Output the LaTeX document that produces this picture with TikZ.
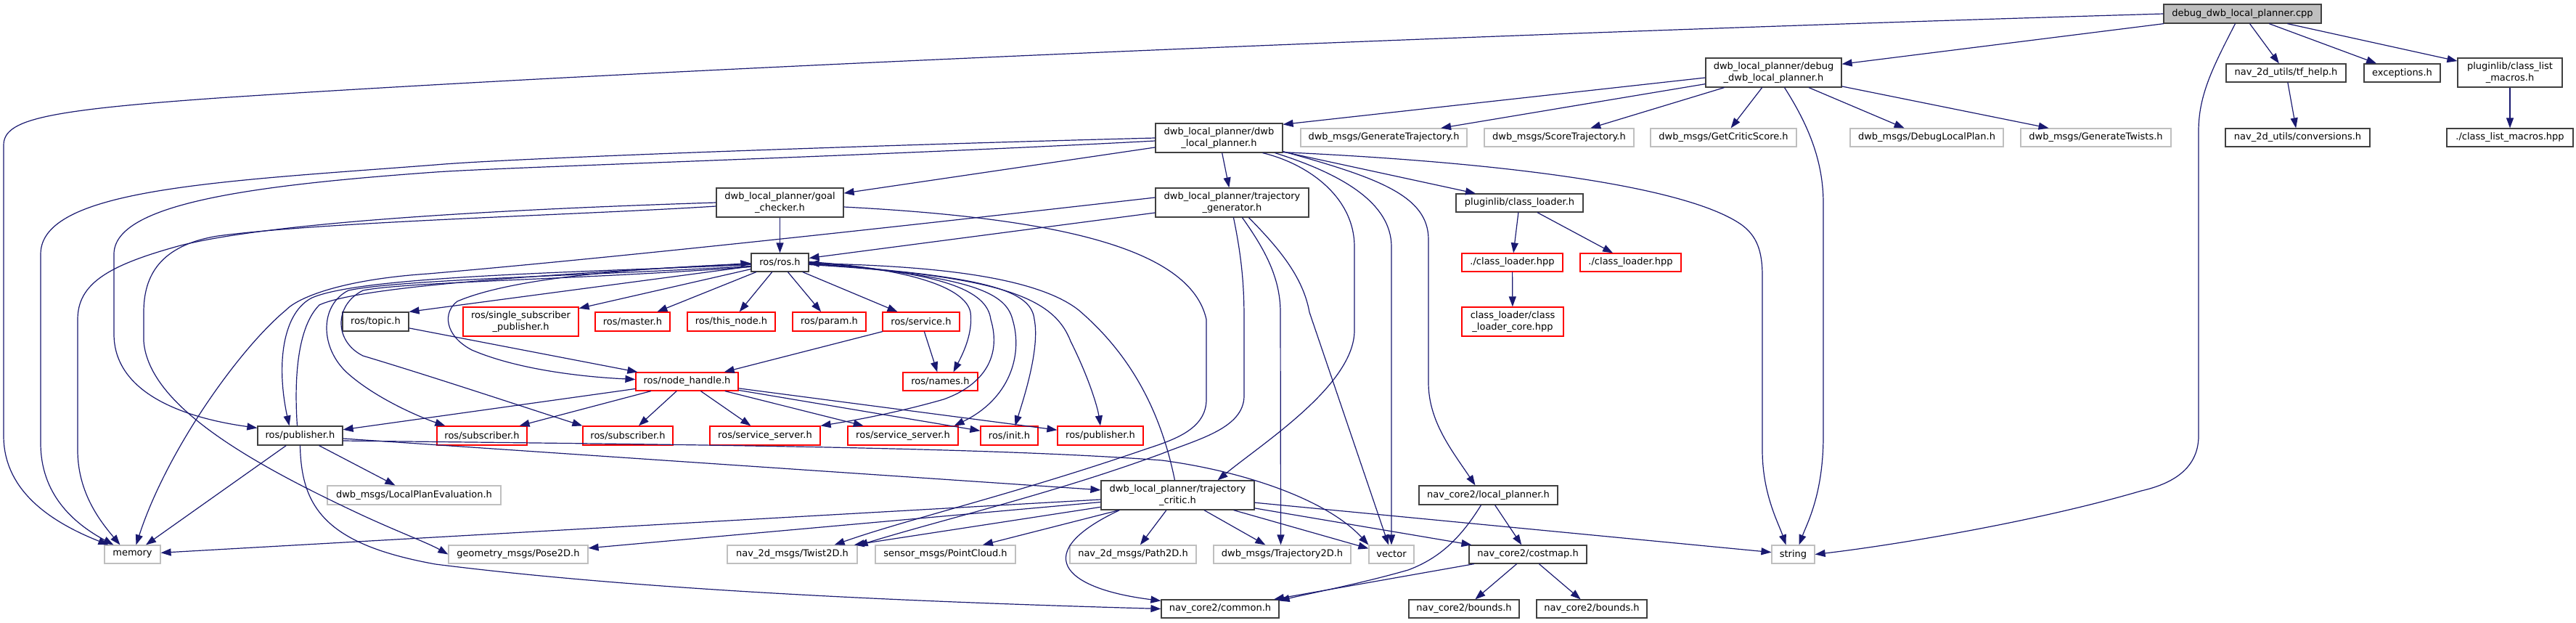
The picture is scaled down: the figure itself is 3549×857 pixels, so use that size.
\documentclass[tikz,border=0pt]{standalone}
\usepackage{fontspec}
\setmainfont{DejaVu Sans}
\usetikzlibrary{arrows.meta,calc}
\definecolor{edgec}{HTML}{191970}
\definecolor{grayb}{HTML}{BFBFBF}
\definecolor{darkb}{HTML}{404040}
\definecolor{redb}{HTML}{FF0000}
\begin{document}
\begin{tikzpicture}[x=0.5pt,y=-0.5pt,
 bx/.style={draw, line width=0.6pt, inner sep=0pt, align=center, font=\fontsize{6.5pt}{7.6pt}\selectfont, fill=white},
 blk/.style={bx, draw=darkb},
 rd/.style={bx, draw=redb},
 gr/.style={bx, draw=grayb},
 sz/.style 2 args={minimum width=#1*0.5pt, minimum height=#2*0.5pt},
 conn/.style={draw=edgec, line width=0.6pt, -{Triangle[length=7pt,width=5pt]}},
]
\useasboundingbox (0,0) rectangle (3549,857);
% nodes
\node[blk, sz={217}{26}, fill=grayb] (cpp) at (3089.5,19) {debug\_dwb\_local\_planner.cpp};
\node[blk, sz={187}{40}] (dbgh) at (2443.5,100) {dwb\_local\_planner/debug\\\_dwb\_local\_planner.h};
\node[blk, sz={165}{25}] (tfhelp) at (3149.5,100.5) {nav\_2d\_utils/tf\_help.h};
\node[blk, sz={105}{25}] (exc) at (3309.5,100.5) {exceptions.h};
\node[blk, sz={144}{40}] (clm) at (3458,100) {pluginlib/class\_list\\\_macros.h};
\node[blk, sz={199}{25}] (conv) at (3165.5,189.5) {nav\_2d\_utils/conversions.h};
\node[blk, sz={174}{25}] (clmhpp) at (3458,189.5) {./class\_list\_macros.hpp};
\node[blk, sz={175}{40}] (dwbh) at (1679.5,190) {dwb\_local\_planner/dwb\\\_local\_planner.h};
\node[gr, sz={229}{25}] (gentraj) at (1906.5,189.5) {dwb\_msgs/GenerateTrajectory.h};
\node[gr, sz={206}{25}] (score) at (2148,189.5) {dwb\_msgs/ScoreTrajectory.h};
\node[gr, sz={201}{25}] (critscore) at (2374.5,189.5) {dwb\_msgs/GetCriticScore.h};
\node[gr, sz={211}{25}] (debugplan) at (2654.5,189.5) {dwb\_msgs/DebugLocalPlan.h};
\node[gr, sz={207}{25}] (twists) at (2887.5,189.5) {dwb\_msgs/GenerateTwists.h};
\node[blk, sz={175}{40}] (goal) at (1074.5,279) {dwb\_local\_planner/goal\\\_checker.h};
\node[blk, sz={211}{40}] (trajgen) at (1697.5,279) {dwb\_local\_planner/trajectory\\\_generator.h};
\node[blk, sz={175}{25}] (clh) at (2093.5,279.5) {pluginlib/class\_loader.h};
\node[rd, sz={139}{25}] (clhpp1) at (2083.5,361.5) {./class\_loader.hpp};
\node[rd, sz={139}{25}] (clhpp2) at (2246.5,361.5) {./class\_loader.hpp};
\node[rd, sz={140}{40}] (clcore) at (2084,443) {class\_loader/class\\\_loader\_core.hpp};
\node[blk, sz={79}{25}] (ros) at (1074.5,361.5) {ros/ros.h};
\node[blk, sz={91}{26}] (topic) at (517.5,443) {ros/topic.h};
\node[rd, sz={159}{40}] (ssp) at (717.5,443) {ros/single\_subscriber\\\_publisher.h};
\node[rd, sz={103}{26}] (master) at (871.5,443) {ros/master.h};
\node[rd, sz={121}{26}] (thisnode) at (1007.5,443) {ros/this\_node.h};
\node[rd, sz={101}{26}] (param) at (1142.5,443) {ros/param.h};
\node[rd, sz={106}{26}] (service) at (1269,443) {ros/service.h};
\node[rd, sz={103}{25}] (names) at (1295.5,525.5) {ros/names.h};
\node[rd, sz={141}{25}] (nh) at (946.5,525.5) {ros/node\_handle.h};
\node[blk, sz={117}{26}] (pubb) at (413.5,600) {ros/publisher.h};
\node[rd, sz={124}{26}] (sub1) at (664,600) {ros/subscriber.h};
\node[rd, sz={124}{26}] (sub2) at (865,600) {ros/subscriber.h};
\node[rd, sz={152}{26}] (ss1) at (1054,600) {ros/service\_server.h};
\node[rd, sz={152}{26}] (ss2) at (1244,600) {ros/service\_server.h};
\node[rd, sz={79}{26}] (init) at (1390.5,600) {ros/init.h};
\node[rd, sz={118}{26}] (pubr) at (1516,600) {ros/publisher.h};
\node[gr, sz={239}{26}] (lpe) at (570.5,682) {dwb\_msgs/LocalPlanEvaluation.h};
\node[blk, sz={211}{40}] (critic) at (1622.5,682) {dwb\_local\_planner/trajectory\\\_critic.h};
\node[gr, sz={77}{25}] (memory) at (182.5,763.5) {memory};
\node[gr, sz={192}{25}] (pose) at (714,763.5) {geometry\_msgs/Pose2D.h};
\node[gr, sz={179}{25}] (twist) at (1091.5,763.5) {nav\_2d\_msgs/Twist2D.h};
\node[gr, sz={193}{25}] (pc) at (1302.5,763.5) {sensor\_msgs/PointCloud.h};
\node[gr, sz={174}{25}] (path2d) at (1561,763.5) {nav\_2d\_msgs/Path2D.h};
\node[gr, sz={189}{25}] (traj2d) at (1766.5,763.5) {dwb\_msgs/Trajectory2D.h};
\node[gr, sz={62}{25}] (vector) at (1917,763.5) {vector};
\node[blk, sz={162}{25}] (costmap) at (2105,763.5) {nav\_core2/costmap.h};
\node[blk, sz={191}{26}] (lp) at (2050.5,682) {nav\_core2/local\_planner.h};
\node[gr, sz={59}{25}] (string) at (2470.5,763.5) {string};
\node[blk, sz={162}{25}] (common) at (1681,838.5) {nav\_core2/common.h};
\node[blk, sz={152}{25}] (bounds1) at (2017,838.5) {nav\_core2/bounds.h};
\node[blk, sz={152}{25}] (bounds2) at (2193,838.5) {nav\_core2/bounds.h};

% ---- edges from debug_dwb_local_planner.cpp
\draw[conn] (cpp) -- (dbgh);
\draw[conn] (cpp) -- (tfhelp);
\draw[conn] (cpp) -- (exc);
\draw[conn] (cpp) -- (clm);
\draw[conn] (cpp.west) .. controls (2000,48) and (900,95) .. (300,135) .. controls (60,152) and (5,165) .. (5,200) -- (5,600) .. controls (5,670) and (60,715) .. ($(memory.north west)+(6,0)$);
\draw[conn] ($(cpp.south)+(-10,0)$) .. controls (3050,90) and (3029,130) .. (3029,180) -- (3029,600) .. controls (3029,650) and (2985,668) .. (2950,676) .. controls (2800,720) and (2600,752) .. (string.east);
\draw[conn] (tfhelp) -- (conv);
\draw[conn] (clm) -- (clmhpp);
% ---- debug_dwb_local_planner.h
\draw[conn] ($(dbgh.west)+(0,7)$) -- ($(dwbh.north east)+(0,2)$);
\draw[conn] (dbgh) -- (gentraj);
\draw[conn] (dbgh) -- (score);
\draw[conn] (dbgh) -- (critscore);
\draw[conn] (dbgh) -- (debugplan);
\draw[conn] (dbgh) -- (twists);
\draw[conn] ($(dbgh.south)+(15,0)$) .. controls (2490,170) and (2512,220) .. (2512,280) -- (2512,600) .. controls (2512,680) and (2490,720) .. ($(string.north)+(8,0)$);
% ---- dwb_local_planner.h
\draw[conn] (dwbh) -- (goal);
\draw[conn] (dwbh) -- (trajgen);
\draw[conn] (dwbh) -- (clh);
\draw[conn] (dwbh.west) .. controls (1200,200) and (700,218) .. (600,227) .. controls (300,250) and (56,260) .. (56,350) -- (56,610) .. controls (56,680) and (100,720) .. ($(memory.north west)+(13,0)$);
\draw[conn] ($(dwbh.west)+(0,4)$) .. controls (1200,215) and (700,230) .. (600,237) .. controls (350,255) and (157,280) .. (157,350) -- (157,460) .. controls (157,540) and (250,575) .. ($(pubb.north west)+(0,3)$);
\draw[conn] ($(dwbh.south east)+(-28,0)$) .. controls (1800,225) and (1866,270) .. (1866,340) -- (1866,455) .. controls (1866,530) and (1740,610) .. ($(critic.north)+(55,0)$);
\draw[conn] ($(dwbh.south east)+(-11,0)$) .. controls (1850,240) and (1917,280) .. (1917,340) -- (vector.north);
\draw[conn] ($(dwbh.south east)+(0,-2)$) .. controls (1900,245) and (1968,270) .. (1968,330) -- (1968,527) .. controls (1968,580) and (2000,620) .. ($(lp.north)+(-18,0)$);
\draw[conn] ($(dwbh.south east)+(0,-1)$) .. controls (2100,225) and (2330,260) .. (2400,310) .. controls (2420,325) and (2428,345) .. (2428,380) -- (2428,620) .. controls (2428,680) and (2450,720) .. ($(string.north)+(-10,0)$);
% ---- class loader
\draw[conn] (clh) -- (clhpp1);
\draw[conn] (clh) -- (clhpp2);
\draw[conn] (clhpp1) -- (clcore);
% ---- goal checker
\draw[conn] (goal) -- (ros);
\draw[conn] (goal.west) .. controls (800,285) and (400,300) .. (249,338) .. controls (150,365) and (107,390) .. (107,440) -- (107,620) .. controls (107,680) and (140,720) .. ($(memory.north west)+(22,0)$);
\draw[conn] ($(goal.west)+(0,5)$) .. controls (800,296) and (450,305) .. (300,325) .. controls (220,338) and (198,380) .. (198,430) -- (198,470) .. controls (205,560) and (350,640) .. (500,710) .. controls (550,733) and (590,748) .. (pose.west);
\draw[conn] ($(goal.east)+(0,6)$) .. controls (1450,300) and (1640,340) .. (1662,440) -- (1662,550) .. controls (1662,590) and (1620,605) .. (1580,618) .. controls (1400,680) and (1250,715) .. ($(twist.north east)+(-32,0)$);
% ---- trajectory generator
\draw[conn] ($(trajgen.west)+(0,14)$) -- ($(ros.east)+(0,-6)$);
\draw[conn] ($(trajgen.west)+(0,-7)$) .. controls (1300,305) and (900,350) .. (590,377) .. controls (470,385) and (410,410) .. (394,427) .. controls (330,480) and (230,620) .. ($(memory.north)+(5,0)$);
\draw[conn] ($(trajgen.south west)+(108,0)$) .. controls (1712,360) and (1714,400) .. (1714,440) -- (1714,545) .. controls (1714,590) and (1650,605) .. (1600,625) .. controls (1450,680) and (1300,715) .. ($(twist.north east)+(0,1)$);
\draw[conn] ($(trajgen.south west)+(120,0)$) .. controls (1740,340) and (1764,380) .. (1764,430) -- ($(traj2d.north)+(-2,0)$);
\draw[conn] ($(trajgen.south west)+(129,0)$) .. controls (1760,340) and (1795,380) .. (1804,430) -- ($(vector.north)+(-4,0)$);
% ---- ros.h
\draw[conn] (ros) -- (topic.north east);
\draw[conn] (ros) -- (ssp);
\draw[conn] (ros) -- (master);
\draw[conn] (ros) -- (thisnode);
\draw[conn] (ros) -- (param);
\draw[conn] (ros) -- (service);
\draw[conn] ($(ros.west)+(0,2)$) .. controls (850,370) and (700,385) .. (630,415) .. controls (610,430) and (612,462) .. (650,482) .. controls (720,512) and (820,520) .. ($(nh.west)+(0,-3)$);
\draw[conn] ($(ros.west)+(0,3)$) .. controls (800,375) and (500,380) .. (430,410) .. controls (390,430) and (380,500) .. ($(pubb.north)+(-15,0)$);
\draw[conn] ($(ros.west)+(0,5)$) .. controls (800,380) and (550,385) .. (480,400) .. controls (440,420) and (440,480) .. (480,515) .. controls (520,550) and (580,575) .. ($(sub1.north west)+(12,0)$);
\draw[conn] ($(ros.west)+(0,6)$) .. controls (800,385) and (560,388) .. (500,400) .. controls (460,420) and (460,470) .. (500,490) .. controls (600,520) and (720,560) .. (sub2.north west);
\draw[conn] ($(ros.east)+(0,-1)$) .. controls (1250,370) and (1330,395) .. (1337,430) .. controls (1341,460) and (1325,490) .. ($(names.north)+(18,0)$);
\draw[conn] (ros.east) .. controls (1300,375) and (1360,400) .. (1365,440) .. controls (1380,490) and (1356,530) .. (1300,550) .. controls (1230,570) and (1170,580) .. (ss1.north east);
\draw[conn] ($(ros.east)+(0,1)$) .. controls (1330,380) and (1385,400) .. (1395,440) .. controls (1410,490) and (1390,550) .. ($(ss2.north east)+(-6,0)$);
\draw[conn] ($(ros.east)+(0,2)$) .. controls (1360,380) and (1421,400) .. (1425,440) .. controls (1433,480) and (1410,550) .. ($(init.north)+(8,0)$);
\draw[conn] ($(ros.east)+(0,3)$) .. controls (1380,380) and (1452,410) .. (1475,470) .. controls (1500,520) and (1512,560) .. (pubr.north);
% ---- topic, service, node_handle
\draw[conn] (topic) -- (nh);
\draw[conn] (service) -- (nh);
\draw[conn] (service) -- (names);
\draw[conn] (nh) -- (pubb);
\draw[conn] (nh) -- (sub1);
\draw[conn] (nh) -- (sub2);
\draw[conn] (nh) -- (ss1);
\draw[conn] (nh) -- (ss2);
\draw[conn] (nh) -- (init);
\draw[conn] (nh) -- (pubr);
% ---- publisher.h (documented)
\draw[conn] ($(pubb.north)+(-4,0)$) .. controls (405,520) and (410,450) .. (440,420) .. controls (500,392) and (800,376) .. ($(ros.west)+(0,1)$);
\draw[conn] (pubb) -- (lpe);
\draw[conn] (pubb) -- (memory);
\draw[conn] (pubb) -- (critic);
\draw[conn] ($(pubb.east)+(0,7)$) .. controls (900,612) and (1350,615) .. (1601,634) .. controls (1720,650) and (1830,690) .. (vector.north west);
\draw[conn] (pubb.south) .. controls (415,700) and (450,750) .. (600,777) .. controls (900,815) and (1300,830) .. (common.west);
% ---- trajectory_critic.h
\draw[conn] ($(critic.north)+(-4,0)$) .. controls (1600,570) and (1560,490) .. (1486,427) .. controls (1420,375) and (1250,366) .. ($(ros.east)+(0,1)$);
\draw[conn] (critic) -- (memory);
\draw[conn] (critic) -- (pose);
\draw[conn] (critic) -- (twist);
\draw[conn] (critic) -- (pc);
\draw[conn] (critic) -- (path2d);
\draw[conn] (critic) -- (traj2d);
\draw[conn] (critic) -- (costmap);
\draw[conn] (critic) -- (string);
\draw[conn] ($(critic.south east)+(-29,0)$) -- ($(vector.north west)+(0,5)$);
\draw[conn] ($(critic.south west)+(26,0)$) .. controls (1420,760) and (1460,810) .. ($(common.north west)+(0,2)$);
% ---- nav_core2
\draw[conn] (lp) -- (costmap);
\draw[conn] ($(lp.south)+(-10,0)$) .. controls (2010,745) and (1980,770) .. (1940,785) .. controls (1870,805) and (1800,818) .. ($(common.north east)+(0,2)$);
\draw[conn] (costmap) -- (common);
\draw[conn] (costmap) -- (bounds1);
\draw[conn] (costmap) -- (bounds2);
\end{tikzpicture}
\end{document}
